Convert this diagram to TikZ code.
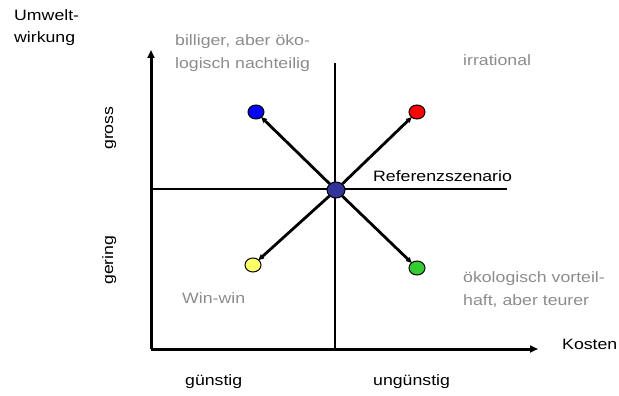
\documentclass[tikz,border=0pt]{standalone}
\usepackage{fontspec}
\setmainfont{Liberation Sans}
\usetikzlibrary{arrows.meta,shapes.geometric}
\newcommand\sx[1]{\scalebox{1.18}[1]{#1}}
\definecolor{txtgray}{HTML}{8C8C8C}
\definecolor{dotblue}{HTML}{0000FF}
\definecolor{dotred}{HTML}{FF0000}
\definecolor{dotyellow}{HTML}{FFFF66}
\definecolor{dotgreen}{HTML}{33CC33}
\definecolor{dotcenter}{HTML}{333399}
\tikzset{
  lbl/.style={inner sep=0pt, anchor=base west, align=left, font=\fontsize{15}{22.5}\selectfont},
  graytxt/.style={lbl, text=txtgray},
  dot/.style={ellipse, draw=black, line width=1pt, minimum width=16pt, minimum height=14pt, inner sep=0pt},
  axis/.style={line width=3pt, -{Triangle[length=8pt,width=7pt]}},
  thinline/.style={line width=1.2pt},
  arr/.style={line width=2.8pt, -{Triangle[length=6pt,width=5pt]}, shorten >=-1pt},
}
\begin{document}
\begin{tikzpicture}[x=1pt,y=-1pt]
\useasboundingbox (0,0) rectangle (619,396);
% coordinates
\coordinate (o) at (151,349);
\coordinate (ytop) at (151,50);
\coordinate (xend) at (538,349);
\coordinate (vt) at (335,63);
\coordinate (vb) at (335,349);
\coordinate (hl) at (152,189);
\coordinate (hr) at (507,189);
% grid lines
\draw[thinline] (vt) -- (vb);
\draw[thinline] (hl) -- (hr);
% axes
\draw[axis] (o) -- (ytop);
\draw[axis] (o) -- (xend);
% dots
\node[dot, fill=dotblue] (b) at (256,112) {};
\node[dot, fill=dotred] (r) at (417,112) {};
\node[dot, fill=dotyellow] (y) at (253,265) {};
\node[dot, fill=dotgreen] (g) at (417,268) {};
\node[dot, fill=dotcenter, minimum width=18pt, minimum height=16pt] (c) at (336,190) {};
% arrows
\draw[arr] (c) -- (b);
\draw[arr] (c) -- (r);
\draw[arr] (c) -- (y);
\draw[arr] (c) -- (g);
% labels
\node[lbl] (uw) at (14,43) {\sx{Umwelt-}\\\sx{wirkung}};
\node[graytxt] (bil) at (175,68.5) {\sx{billiger, aber öko-}\\\sx{logisch nachteilig}};
\node[graytxt] (irr) at (463,66) {\sx{irrational}};
\node[lbl] (ref) at (373,181) {\sx{Referenzszenario}};
\node[graytxt] (oek) at (463,305) {\sx{ökologisch vorteil-}\\\sx{haft, aber teurer}};
\node[graytxt] (ww) at (182,303) {\sx{Win-win}};
\node[lbl] (kos) at (562,349) {\sx{Kosten}};
\node[lbl] (gue) at (185,385) {\sx{günstig}};
\node[lbl] (ung) at (373,385) {\sx{ungünstig}};
\node[lbl, rotate=90] (gro) at (113,150) {\sx{gross}};
\node[lbl, rotate=90] (ger) at (113,285) {\sx{gering}};
\end{tikzpicture}
\end{document}
